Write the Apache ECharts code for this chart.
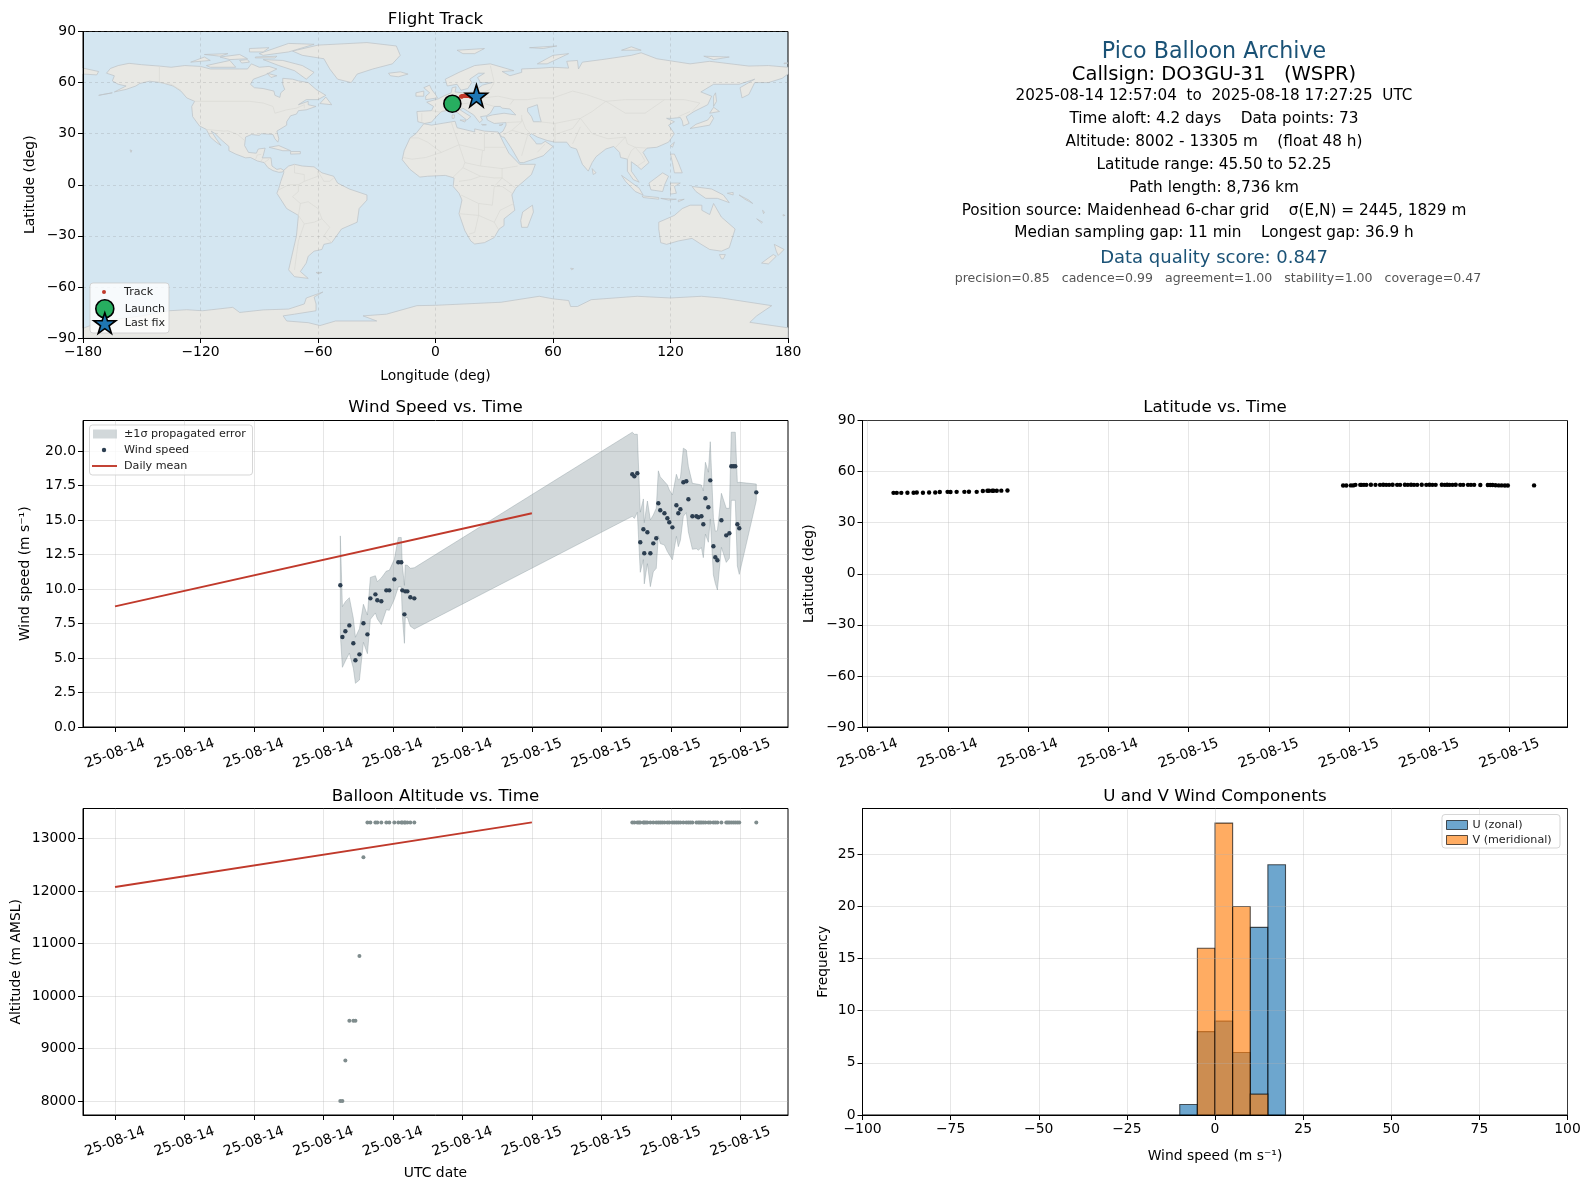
<!DOCTYPE html>
<html><head><meta charset="utf-8">
<style>html,body{margin:0;padding:0;background:#fff}#c{width:1590px;height:1189px}</style>
<script src="https://cdn.jsdelivr.net/npm/echarts@6/dist/echarts.min.js"></script>
</head><body><div id="c"></div>
<script>
// ---- Flight data (hours since 2025-08-14 00:00 on the plotted axis) ----
const windHours = [12.97,13.09,13.26,13.49,13.72,13.84,14.07,14.30,14.53,14.70,14.99,15.10,15.33,15.62,15.79,16.08,16.31,16.48,16.54,16.66,16.71,16.83,17.00,17.23,
29.78,29.90,30.07,30.24,30.42,30.47,30.65,30.82,30.99,31.16,31.28,31.39,31.63,31.80,31.91,32.09,32.32,32.43,32.55,32.72,32.89,33.01,33.24,33.47,33.58,33.76,33.87,33.99,34.16,34.27,34.45,34.56,34.68,34.91,35.19,35.37,35.48,35.60,35.71,35.83,35.94,36.92];
const windSpeed = [10.28,6.53,6.94,7.37,6.07,4.84,5.27,7.52,6.72,9.33,9.62,9.19,9.12,9.91,9.91,10.71,11.95,11.95,9.91,8.17,9.84,9.84,9.41,9.33,
18.33,18.18,18.40,13.40,14.34,12.60,14.12,12.60,13.32,13.69,16.23,15.72,15.50,15.14,14.85,14.48,16.08,15.50,15.79,17.75,17.82,16.52,15.28,15.28,15.21,15.28,14.70,16.59,15.94,17.89,13.11,12.31,12.09,14.99,13.90,14.05,18.91,18.91,18.91,14.70,14.41,17.02];
const windError = [3.58,2.20,2.15,2.01,1.81,1.67,1.86,1.38,1.40,1.52,1.35,1.35,1.69,1.40,1.45,1.45,1.79,1.79,1.84,2.10,1.91,1.89,2.10,2.22,
3.05,3.05,2.83,2.18,2.20,2.22,2.27,2.42,2.06,2.18,2.35,2.42,2.30,2.42,2.35,2.35,2.25,2.42,2.25,2.47,2.27,2.37,2.39,2.35,2.39,2.27,2.42,2.61,2.54,2.80,2.08,1.89,2.15,1.96,1.96,1.81,2.47,2.47,2.47,3.02,3.34,0.60];
const fixHours = [12.97,13.09,13.26,13.49,13.72,13.84,14.07,14.30,14.53,14.70,14.99,15.10,15.33,15.62,15.79,16.08,16.31,16.48,16.54,16.66,16.71,16.83,17.00,17.23,
29.78,29.90,30.07,30.16,30.24,30.42,30.47,30.56,30.65,30.82,30.99,31.16,31.28,31.39,31.50,31.63,31.80,31.91,32.09,32.20,32.32,32.43,32.55,32.72,32.89,33.01,33.12,33.24,33.47,33.58,33.67,33.76,33.87,33.99,34.16,34.27,34.45,34.56,34.68,34.91,35.19,35.28,35.37,35.48,35.60,35.71,35.83,35.94,36.92];
const fixLat = [47.5,47.5,47.5,47.6,47.6,47.7,47.6,47.7,47.7,48.0,48.1,48.0,48.1,48.1,48.2,48.1,48.6,48.7,48.7,48.7,48.7,48.7,48.8,48.9,
51.8,51.8,51.9,51.9,52.2,52.2,52.2,52.2,52.2,52.25,52.2,52.2,52.25,52.2,52.2,52.25,52.2,52.2,52.25,52.2,52.25,52.2,52.2,52.25,52.2,52.25,52.2,52.2,52.25,52.2,52.25,52.2,52.2,52.25,52.2,52.2,52.2,52.2,52.2,52.1,52.1,52.1,52.1,52.0,51.9,51.9,51.8,51.8,51.9];
const fixAlt = [8002,8002,8772,9531,9531,9531,10763,12640,13305,13305,13305,13305,13305,13305,13305,13305,13305,13305,13305,13305,13305,13305,13305,13305,
13305,13305,13305,13305,13305,13305,13305,13305,13305,13305,13305,13305,13305,13305,13305,13305,13305,13305,13305,13305,13305,13305,13305,13305,13305,13305,13305,13305,13305,13305,13305,13305,13305,13305,13305,13305,13305,13305,13305,13305,13305,13305,13305,13305,13305,13305,13305,13305,13305];
const trackLon = [13.0,13.2,13.4,13.6,13.8,14.0,14.3,14.6,14.8,15.0,15.3,15.5,15.7,15.9,16.1,16.3,16.5,16.7,16.9,17.1,17.3,17.5,17.7,18.0,20.6];
const trackLat = [51.8,51.8,51.9,51.9,52.0,52.1,52.2,52.2,52.2,52.2,52.25,52.2,52.2,52.2,52.25,52.2,52.2,52.2,52.2,52.1,52.1,52.0,51.9,51.9,51.8];
const launchPoint = [8.6, 47.6];
const lastFixPoint = [20.9, 52.25];
const dailyHours = [0, 24];
const dailyWind = [8.75, 15.5];
const dailyAlt = [12077, 13305];
const binEdges = [-10,-5,0,5,10,15,20];
const uCounts = [1,8,9,6,18,24];
const vCounts = [0,16,28,20,2,0];

// ---- Tick labels ----
const windTickHours = [0,4,8,12,16,20,24,28,32,36];
const windTickLabels = ['25-08-14','25-08-14','25-08-14','25-08-14','25-08-14','25-08-14','25-08-15','25-08-15','25-08-15','25-08-15'];
const latTickHours = [12,15,18,21,24,27,30,33,36];
const latTickLabels = ['25-08-14','25-08-14','25-08-14','25-08-14','25-08-15','25-08-15','25-08-15','25-08-15','25-08-15'];
const windYTicks = [0,2.5,5,7.5,10,12.5,15,17.5,20];
const altYTicks = [8000,9000,10000,11000,12000,13000];
const histYTicks = [0,5,10,15,20,25];
const lonTicks = [-180,-120,-60,0,60,120,180];
const latTicks = [-90,-60,-30,0,30,60,90];
const histXTicks = [-100,-75,-50,-25,0,25,50,75,100];

// ---- Info panel text ----
const infoLines = [
 ['Pico Balloon Archive', 22.2, '#1a5276', 52.5, 1214],
 ['Callsign: DO3GU-31   (WSPR)', 19.5, '#000', 75, 1214],
 ['2025-08-14 12:57:04  to  2025-08-18 17:27:25  UTC', 15.2, '#000', 96, 1214],
 ['Time aloft: 4.2 days    Data points: 73', 15.3, '#000', 119.5, 1214],
 ['Altitude: 8002 - 13305 m    (float 48 h)', 15.3, '#000', 142.5, 1214],
 ['Latitude range: 45.50 to 52.25', 15.3, '#000', 165.5, 1214],
 ['Path length: 8,736 km', 15.3, '#000', 188.5, 1214],
 ['Position source: Maidenhead 6-char grid    σ(E,N) = 2445, 1829 m', 15.3, '#000', 211.5, 1214],
 ['Median sampling gap: 11 min    Longest gap: 36.9 h', 15.3, '#000', 233.5, 1214],
 ['Data quality score: 0.847', 18, '#1a5276', 258.5, 1214],
 ['precision=0.85   cadence=0.99   agreement=1.00   stability=1.00   coverage=0.47', 12.55, '#555', 279, 1218]
];

// ---- Map geometry [lon, lat] ----
const landNorthAmerica = [[-168,65.5],[-166,68.3],[-162,70],[-156.5,71.3],[-150,70.5],[-141,69.7],[-135,69],[-128,70],[-120,69.5],[-115,68],[-108,68],[-100,68],[-96,68],[-94,71],[-90,69],[-85,69.5],[-81,68],[-87,64.5],[-93,62],[-94.5,59],[-92.5,57],[-88,56.5],[-82.5,55],[-82,52.5],[-79.5,51.3],[-79,54],[-77,56],[-78,59],[-78,62.5],[-73,62],[-70,61],[-65,60],[-61,56],[-56,52.5],[-60,50],[-66,50],[-70,47],[-65,49],[-65,47],[-61,46],[-66,44],[-70,43.5],[-71,41.5],[-74,40.5],[-76,37],[-76,35],[-81,31.5],[-80,27],[-80.5,25],[-82,27],[-83,29.5],[-85,29.7],[-89,30],[-90,29],[-94,29.5],[-97,28],[-97.5,23],[-95.5,19],[-91.5,18.5],[-90.5,21],[-87,21.5],[-88,17],[-88.5,15.8],[-84,15.8],[-83.5,11],[-81,9],[-79,9.5],[-77.5,8.5],[-78,7.5],[-80,7.3],[-83,8.3],[-85.5,10],[-87.5,13],[-91,14],[-94.5,16],[-97,15.8],[-102,18],[-105.5,20],[-105.5,22.5],[-109,26],[-112.5,30],[-114.5,31.5],[-112,27],[-109.5,23],[-112,25],[-115,28],[-117,32.5],[-120.5,34.5],[-124,40],[-124.5,46],[-123,49],[-127,51],[-130,55],[-134,58],[-140,60],[-146,60.8],[-151,59.5],[-153,58],[-158,56],[-164,54.5],[-158,58],[-162,59],[-165,61],[-164,64]];
const landSouthAmerica = [[-77.5,8.5],[-75,11],[-72,12],[-68,11],[-62,10.5],[-58,7],[-52,5],[-50,1],[-44,-2.5],[-35,-6],[-35,-9],[-39,-14],[-40,-22],[-48,-26],[-53,-34],[-57,-35],[-58,-38],[-62,-39],[-65,-42],[-66,-46],[-69,-51],[-65,-55],[-72,-54],[-75,-50],[-73,-40],[-71,-30],[-70,-18],[-76,-14],[-81,-5],[-80,-2],[-79,2],[-77.5,7]];
const landGreenland = [[-73,78.5],[-60,82],[-35,83.5],[-20,81.5],[-18,76],[-22,71],[-32,68],[-40,65],[-43,60],[-50,62],[-54,68],[-57,74],[-68,76]];
const landEurasia = [[-9,37],[-9.5,43],[-2,43.5],[-1,46],[-4.5,48.5],[1.5,50.5],[4,52],[8,54],[8.5,57],[10.5,57.5],[10,54.5],[14,54],[19,54.5],[21,56],[24,58.5],[29,60],[23,60],[21.5,63],[25,65.5],[22,65.5],[17.5,62],[18.5,60],[16.5,56.5],[13,55.5],[11,59],[6,58],[5,62],[12,66],[20,70],[28,71],[40,67],[34,66.5],[38,64],[44,66],[44,68],[54,68.5],[60,69],[68,68.5],[67,72.5],[72.5,73],[73,68],[75,72],[85,73.5],[100,76],[105,77.5],[113,74],[130,71],[140,72.5],[160,69.7],[170,70],[180,69],[180,65],[177,62.5],[170,60],[163,60],[160,53],[156.5,51],[155.5,57],[163,62],[155,59],[142,59],[135.5,54.5],[141,52],[139,47],[132,43],[128,40],[129.5,36],[126.5,34.5],[126,37.5],[125,39.5],[121,39],[118,39],[122,37],[119,35],[122,30],[119,25],[113,22],[108,21.5],[106,19],[109,13],[105,9],[103,11],[100,13.5],[100,8],[104,1.5],[101,3],[98,8],[98,15],[94.5,16],[94,19],[91,22.5],[87,21],[82,16.5],[80,13],[78,8],[75,12],[73,18],[72,21],[69,22],[67,25],[61,25],[57,26],[52,28],[49,30],[48,29],[51,25],[51.5,24],[54,24],[56,25.5],[60,22.5],[55,17],[45,13],[43,13],[39,21],[35,28],[34,28],[32.6,30],[34.5,31.5],[36,35],[36,36.5],[30,36],[26.5,38],[26,40],[29,41],[35,42],[41,41],[38,44.5],[34,45],[33,46],[30,46],[28,42],[26,40.5],[23,40],[24,38],[22.5,36.5],[19.5,41],[14,45],[12.5,44],[18,40],[16,38],[11,42.5],[8,44],[3,43],[0,39.5],[-2,36.8],[-5.5,36]];
const landAfrica = [[-6,35.8],[-2,35],[10,37.3],[11,33.5],[20,31],[20,32.8],[25,31.5],[32,31],[32.5,30],[35,24],[37.5,18.5],[43,12],[51,12],[49,6],[41,-2],[39,-6],[40.5,-15],[35,-20],[35,-24],[32.5,-26],[30,-31],[25,-34],[20,-34.8],[18,-33],[15,-27],[12,-17],[13.5,-9],[12,-5],[9,-1],[9.5,4],[5,5.5],[-4,5],[-8,4.5],[-13,9],[-17,14.7],[-16,20],[-13,27.5],[-10,30]];
const landAustralia = [[114,-22],[122,-18],[126,-14],[130,-12],[136,-12],[136,-15],[140,-17.5],[142,-11],[146,-19],[153,-26],[150,-37],[146,-39],[140,-38],[135,-34.5],[131,-31.5],[124,-33],[118,-35],[115,-34],[114,-26]];
const landAntarctica = [[-180,-84.3],[-170,-80],[-150,-77],[-136,-74],[-127,-73.4],[-119,-74],[-103.5,-72],[-100,-75],[-88,-73.5],[-75,-73],[-67,-70],[-66,-66.5],[-57.5,-63],[-62,-66],[-61,-70],[-61,-74],[-72,-76],[-77.8,-77],[-76,-80],[-65,-81],[-59,-82.7],[-51,-80],[-30,-80],[-37,-77],[-25,-76],[-9.5,-71],[0,-70.8],[33.5,-69],[53,-65.5],[60,-67],[68,-68],[69,-71.5],[72.5,-71.5],[79.5,-67.5],[103,-65.5],[120,-66.5],[135.8,-65.5],[146,-66.5],[171.7,-71],[164,-77],[160.5,-80.8],[180,-84],[180,-90],[-180,-90]];
const landIslands = [
 [[-62,66],[-68,70],[-78,73],[-88,73.5],[-80,70],[-72,67],[-66,62]],
 [[-117,70],[-105,73],[-102,69],[-115,69]],
 [[-90,77],[-75,83],[-62,82.5],[-75,78],[-88,76]],
 [[-125,72],[-118,75],[-115,73]],
 [[-110,75],[-100,76.5],[-96,74],[-105,73.5]],
 [[-95,80],[-85,80.5],[-88,78],[-95,78]],
 [[-92,75],[-81,75.5],[-82,74.5],[-92,74.5]],
 [[-100,73],[-96,73.5],[-95,72],[-99,71.5]],
 [[-118,76.5],[-106,77],[-110,75.5]],
 [[-86,65.5],[-81,64],[-84,63]],
 [[-59,47.7],[-56,51.5],[-53,47]],
 [[-24,65.5],[-18,66.3],[-14,65],[-19,63.4],[-23,64]],
 [[-5,50],[1,51],[0,53],[-2,56],[-3,58.5],[-6,57],[-3,54],[-5,52]],
 [[-10,52],[-6,52],[-6,55],[-10,54]],
 [[11,79],[25,80],[20,77],[14,77]],
 [[52,71],[60,76],[68,77],[57,71]],
 [[48,80.5],[62,81.5],[55,80]],
 [[95,79],[105,79],[100,81]],
 [[137,75.5],[150,75],[142,73.5]],
 [[178,71],[180,71.5],[178,71.5]],
 [[49.5,-12],[50,-16],[47,-25],[44,-25],[43.5,-21],[44.5,-16]],
 [[145,-41],[148,-41],[147,-43.5],[146,-43.5]],
 [[173,-35],[178,-38],[175,-41.5],[174,-39]],
 [[172.5,-41],[174,-42],[170,-46.5],[166.5,-46],[170,-43]],
 [[130,33],[135,34],[140,35],[142,39],[141,41],[139,38],[133,35.5]],
 [[140,42],[145,43],[142,45.5]],
 [[142,46],[143.5,49],[143,54],[142,52]],
 [[95,5.5],[104,-2],[106,-6],[102,-4],[97,2]],
 [[105.5,-6.5],[114,-7.5],[114,-8.5],[106,-7.5]],
 [[115,-8],[123,-8.5],[119,-9]],
 [[124,-9],[127,-8.5],[124,-10]],
 [[109,1],[116,7],[119,5],[117,0],[116,-4],[110,-3]],
 [[120,1],[125,1],[122,-1],[123,-5],[120,-5.5]],
 [[120,18],[122,18],[124,13],[126,7],[122,7],[121,13]],
 [[131,-1],[141,-2.5],[147,-6],[150,-10.5],[144,-8],[138,-8],[133,-4]],
 [[149,-5],[152,-4.5],[152,-6]],
 [[120,23],[122,25],[121,22]],
 [[80,9.5],[82,7],[80.5,6]],
 [[8.5,41],[9.7,41],[9.5,39],[8.5,39]],
 [[12.5,38],[15.5,38],[15,36.8]],
 [[23.5,35.5],[26,35.2],[24,35]],
 [[32.5,35],[34.5,35.6],[33.5,34.7]],
 [[-85,22],[-80,23],[-74,20],[-78,20]],
 [[-74,19.5],[-69,19.5],[-69,18.2],[-74,18]],
 [[-61,-51.5],[-58,-51.5],[-60,-52.3]],
 [[69,-49],[70.5,-49.3],[69.5,-50]],
 [[164,-20],[167,-22],[166.5,-22.5]],
 [[167,-15],[168,-16],[167.5,-17]],
 [[177.5,-17.5],[178.5,-18],[177.5,-18.3]],
 [[-156,20.5],[-155,20],[-155.5,19]],
 [[155,-6],[160,-9],[162,-11],[158,-8.5]],
 [[-170,53],[-165,54],[-172,52.5]],
 [[-180,65],[-173,64.5],[-172,66.5],[-180,68.5]]
];
const seaCaspian = [[47,45],[52,47],[53,41],[54,37],[50,37],[49,40],[47,43]];
const borderLines = [
 [[-141,69.7],[-141,60],[-135,59],[-130,55.5]],
 [[-123,49],[-95,49],[-88,48],[-83,46],[-82,42],[-76,44],[-71,45],[-67,47],[-67,45]],
 [[-117,32.5],[-108,31.5],[-106,31.7],[-101,29.5],[-97.5,26]],
 [[-92,14.5],[-91,17.5],[-89,17.8]],[[-88,15.8],[-89,14]],[[-85,15],[-87.5,13]],
 [[-70,-18],[-69,-11],[-73,-7],[-70,-4],[-70,0],[-67,2],[-60,5],[-60,8]],
 [[-69,-11],[-65,-10],[-60,-14],[-58,-20],[-54,-25],[-57,-30],[-53,-34]],
 [[-70,-18],[-67,-23],[-70,-33],[-72,-50]],[[-80,-3],[-75,0],[-70,0]],
 [[-72,12],[-72,7],[-67,6],[-67,2]],[[-60,8],[-57,2],[-54,2],[-52,4]],[[-58,-20],[-62,-22],[-67,-23]],
 [[-13,27.5],[-8.7,27.5],[-4,25],[3,19],[12,23.5],[10,30],[8,37]],
 [[12,23.5],[25,20],[25,31.5]],[[25,22],[36,22]],[[3,19],[-5,16],[-12,15],[-16.5,16]],
 [[12,23.5],[15,13],[14,10],[9,4.5]],[[15,13],[23,11],[24,20]],[[23,11],[34,9.5],[42,11]],
 [[34,9.5],[34,4],[41,-2]],[[34,4],[30,-1],[34,-1],[39,-5]],[[30,-1],[29,-12],[22,-11],[13,-6]],
 [[22,-11],[22,-18],[12,-17]],[[22,-18],[20,-28],[17,-29]],[[22,-18],[30,-22],[32,-26]],
 [[30,-22],[33,-15],[40,-11]],[[14,10],[23,5],[30,4],[34,4]],[[12,2],[18,3],[23,5]],
 [[28,70],[30,60],[28,56],[24,54],[14,54]],[[10,47],[17,48],[24,48],[30,46]],[[3,43],[7,44]],
 [[-2,43.5],[3,42.5]],[[-7,42],[-7,37]],[[40,50],[32,52],[24,51]],
 [[38,47],[40,50],[47,50],[53,51],[60,51],[70,55],[77,53],[87,49],[97,50],[107,50],[117,50],[127,50],[135,48],[131,43]],
 [[87,49],[80,43],[74,39],[80,30],[88,27],[97,28],[98,24],[102,22],[108,21.5]],
 [[74,39],[61,36],[53,37]],[[61,36],[61,25]],[[74,39],[70,33],[61,29.5]],[[74,34],[70,24]],
 [[44,39],[46,33],[48.5,30]],[[36,36.5],[44,37],[44,41]],[[44,37],[39,32],[35,29.5]],[[39,32],[48,29]],
 [[47,29],[44,17]],[[52,19],[56,24]],[[97,28],[92,22]],[[100,20],[102,22],[105,18],[107,14],[103,11]],
 [[100,20],[98,15]],[[117,50],[107,42],[97,42],[87,49]],[[124,40],[130,43]]
];
const starPath = 'path://M50 0 L61.8 35.1 L98.9 35.1 L69 57.6 L79.4 91.5 L50 70.5 L20.6 91.5 L31 57.6 L1.1 35.1 L38.2 35.1 Z';

// ---- Assembly ----
const FONT = 'DejaVu Sans';
const GRID_LINE = 'rgba(176,176,176,0.32)';
const OCEAN = '#d4e6f1', LAND = '#e8e8e4', COAST = '#bcc2c5', BORDER = '#dadad6';
const grids = [
 {left:83,top:31.5,width:705,height:306.5},
 {left:83,top:420.5,width:705,height:306.5},
 {left:862.5,top:420.5,width:705,height:306.5},
 {left:83,top:808.5,width:705,height:306.5},
 {left:862.5,top:808.5,width:705,height:306.5}
].map(g=>Object.assign(g,{show:true,borderColor:'#000',borderWidth:1,backgroundColor:'#fff'}));
grids[0].backgroundColor = OCEAN;

function axis(gridIndex, o){
  const a = {
    type:'value', gridIndex, min:o.min, max:o.max,
    axisLine:{show:true,onZero:false,lineStyle:{color:'#000',width:1}},
    axisTick:{show:true,length:5,customValues:o.ticks,lineStyle:{color:'#000',width:1}},
    axisLabel:{show:true,customValues:o.ticks,color:'#000',fontSize:13.9,fontFamily:FONT,margin:o.labelMargin||7,formatter:o.fmt||signed},
    splitLine:{show:true,lineStyle:{color:o.gridColor||GRID_LINE,width:o.dash?0.8:1,type:o.dash?[3,3]:'solid'}},
    z:o.z||0
  };
  if(o.padTop) {a.axisLabel.padding=[o.padTop,0,0,0];a.axisLabel.verticalAlign='middle';}
  if(o.rotate){a.axisLabel.rotate=o.rotate;a.axisLabel.align='center';a.axisLabel.verticalAlign='middle';}
  if(o.name){a.name=o.name;a.nameLocation='middle';a.nameGap=o.gap;a.nameTextStyle={color:'#000',fontSize:13.9,fontFamily:FONT};}
  return a;
}
const signed = v=>String(v).replace('-','\u2212');
const labelFrom = (ticks,labels)=>v=>labels[ticks.indexOf(v)];
const windFmt = labelFrom(windTickHours,windTickLabels);
const latFmt = labelFrom(latTickHours,latTickLabels);
const WIND_X = {min:-1.845,max:38.745,ticks:windTickHours,fmt:windFmt,rotate:20,labelMargin:26.5};
const MAP_GRID = 'rgba(130,130,130,0.28)';
const Y_PAD = 3;

const xAxes = [
 axis(0,{min:-180,max:180,ticks:lonTicks,name:'Longitude (deg)',gap:31,dash:true,z:3,gridColor:MAP_GRID}),
 axis(1,WIND_X),
 axis(2,{min:11.81,max:38.17,ticks:latTickHours,fmt:latFmt,rotate:20,labelMargin:26.5}),
 axis(3,Object.assign({name:'UTC date',gap:51},WIND_X)),
 axis(4,{min:-100,max:100,ticks:histXTicks,name:'Wind speed (m s⁻¹)',gap:34,z:3})
];
const yAxes = [
 axis(0,{min:-90,max:90,ticks:latTicks,name:'Latitude (deg)',gap:46,dash:true,z:3,gridColor:MAP_GRID,padTop:Y_PAD}),
 axis(1,{min:0,max:22.23,ticks:windYTicks,name:'Wind speed (m s⁻¹)',gap:51,fmt:v=>v.toFixed(1),padTop:Y_PAD}),
 axis(2,{min:-90,max:90,ticks:latTicks,name:'Latitude (deg)',gap:46,padTop:Y_PAD}),
 axis(3,{min:7737,max:13570,ticks:altYTicks,name:'Altitude (m AMSL)',gap:60,padTop:Y_PAD}),
 axis(4,{min:0,max:29.4,ticks:histYTicks,name:'Frequency',gap:32,z:3,padTop:Y_PAD})
];

const zip = (a,b)=>a.map((v,i)=>[v,b[i]]);
const landShapes = [landNorthAmerica,landSouthAmerica,landGreenland,landEurasia,landAfrica,landAustralia,landAntarctica].concat(landIslands);
const histBars = counts => counts.map((c,i)=>[binEdges[i],binEdges[i+1],c]).filter(b=>b[2]>0);
const histRender = (fill,stroke)=>(params,api)=>{
  const p0=api.coord([api.value(0),0]), p1=api.coord([api.value(1),api.value(2)]);
  return {type:'rect',shape:{x:p0[0],y:p1[1],width:p1[0]-p0[0],height:p0[1]-p1[1]},style:{fill,stroke,lineWidth:1.1}};
};
const HU='rgba(31,119,180,0.65)',HV='rgba(255,127,14,0.65)',HE='rgba(0,0,0,0.65)';
const BAND='rgba(125,143,150,0.35)';

const series = [
 {name:'land',type:'custom',xAxisIndex:0,yAxisIndex:0,z:1,silent:true,data:landShapes.map((s,i)=>[i,0]),
  renderItem:(p,api)=>({type:'polygon',shape:{points:landShapes[api.value(0)].map(c=>api.coord(c))},style:{fill:LAND,stroke:COAST,lineWidth:0.7}})},
 {name:'sea',type:'custom',xAxisIndex:0,yAxisIndex:0,z:1,silent:true,data:[[0,0]],
  renderItem:(p,api)=>({type:'polygon',shape:{points:seaCaspian.map(c=>api.coord(c))},style:{fill:OCEAN,stroke:COAST,lineWidth:0.7}})},
 {name:'borders',type:'custom',xAxisIndex:0,yAxisIndex:0,z:1,silent:true,data:borderLines.map((s,i)=>[i,0]),
  renderItem:(p,api)=>({type:'polyline',shape:{points:borderLines[api.value(0)].map(c=>api.coord(c))},style:{fill:'none',stroke:BORDER,lineWidth:0.7}})},
 {name:'Track',type:'scatter',xAxisIndex:0,yAxisIndex:0,z:5,symbolSize:4,itemStyle:{color:'#c0392b',opacity:1},data:zip(trackLon,trackLat)},
 {name:'Launch',type:'scatter',xAxisIndex:0,yAxisIndex:0,z:6,symbolSize:17,itemStyle:{color:'#27ae60',borderColor:'#000',borderWidth:1.6,opacity:1},data:[launchPoint]},
 {name:'Last fix',type:'scatter',xAxisIndex:0,yAxisIndex:0,z:7,symbol:starPath,symbolSize:22,itemStyle:{color:'#1f77b4',borderColor:'#000',borderWidth:1.6,opacity:1},data:[lastFixPoint]},

 {name:'±1σ propagated error',type:'custom',xAxisIndex:1,yAxisIndex:1,z:2,silent:true,data:[[0,0]],
  renderItem:(p,api)=>{
    const up=windHours.map((h,i)=>api.coord([h,windSpeed[i]+windError[i]]));
    const lo=windHours.map((h,i)=>api.coord([h,windSpeed[i]-windError[i]])).reverse();
    return {type:'polygon',shape:{points:up.concat(lo)},style:{fill:BAND,stroke:BAND,lineWidth:1}};
  }},
 {name:'Wind speed',type:'scatter',xAxisIndex:1,yAxisIndex:1,z:4,symbolSize:4.4,itemStyle:{color:'#2c3e50',opacity:1},data:zip(windHours,windSpeed)},
 {name:'Daily mean',type:'line',xAxisIndex:1,yAxisIndex:1,z:3,symbol:'none',lineStyle:{color:'#c0392b',width:1.9},data:zip(dailyHours,dailyWind)},

 {name:'Latitude',type:'scatter',xAxisIndex:2,yAxisIndex:2,z:4,symbolSize:4.4,itemStyle:{color:'#000',opacity:1},data:zip(fixHours,fixLat)},

 {name:'Altitude',type:'scatter',xAxisIndex:3,yAxisIndex:3,z:3,symbolSize:4,itemStyle:{color:'#7f8c8d',opacity:1},data:zip(fixHours,fixAlt)},
 {name:'Altitude daily mean',type:'line',xAxisIndex:3,yAxisIndex:3,z:4,symbol:'none',lineStyle:{color:'#c0392b',width:1.9},data:zip(dailyHours,dailyAlt)},

 {name:'U (zonal)',type:'custom',xAxisIndex:4,yAxisIndex:4,z:2,silent:true,itemStyle:{color:HU},encode:{x:[0,1],y:2},data:histBars(uCounts),renderItem:histRender(HU,HE)},
 {name:'V (meridional)',type:'custom',xAxisIndex:4,yAxisIndex:4,z:2,silent:true,itemStyle:{color:HV},encode:{x:[0,1],y:2},data:histBars(vCounts),renderItem:histRender(HV,HE)}
];

function entry(name,icon,w,h,cx,cy,tx,style){
  const th=Math.max(h,13);
  return {show:true,data:[{name,icon,itemStyle:Object.assign({opacity:1},style)}],left:cx-w/2,top:cy-th/2,itemWidth:w,itemHeight:h,padding:0,selectedMode:false,z:20,
    textStyle:{fontFamily:FONT,fontSize:11.15,color:'#222',lineHeight:13,padding:[0,0,0,Math.max(0,tx-(cx+w/2)-5)]}};
}
const legends = [
 entry('Track','circle',4,4,104,292,124,{color:'#c0392b'}),
 entry('Launch','circle',18,18,104,308,124,{color:'#27ae60',borderColor:'#000',borderWidth:1.6}),
 entry('Last fix',starPath,22,22,104,323,124,{color:'#1f77b4',borderColor:'#000',borderWidth:1.6}),
 entry('±1σ propagated error','rect',24,9,105,434,124,{color:BAND,borderWidth:0}),
 entry('Wind speed','circle',4.4,4.4,104,450,124,{color:'#2c3e50'}),
 entry('Daily mean','rect',25,1.9,104.5,466,124,{color:'#c0392b',borderWidth:0}),
 entry('U (zonal)','rect',21,9,1456.5,825,1467,{color:HU,borderColor:HE,borderWidth:1}),
 entry('V (meridional)','rect',21,9,1456.5,840,1467,{color:HV,borderColor:HE,borderWidth:1})
];
const legendBox = (x,y,w,h)=>({type:'rect',z:19,shape:{x,y,width:w,height:h,r:3},style:{fill:'rgba(255,255,255,0.8)',stroke:'rgba(204,204,204,0.8)',lineWidth:1}});

const titles = [
 ['Flight Track',435.5,20],['Wind Speed vs. Time',435.5,408],['Latitude vs. Time',1215,408],
 ['Balloon Altitude vs. Time',435.5,797],['U and V Wind Components',1215,797]
].map(t=>({text:t[0],left:t[1],top:t[2],padding:0,textAlign:'center',textVerticalAlign:'middle',textStyle:{fontFamily:FONT,fontSize:16.67,fontWeight:'normal',color:'#000'}}))
 .concat(infoLines.map(l=>({text:l[0],left:l[4],top:l[3],padding:0,textAlign:'center',textVerticalAlign:'middle',textStyle:{fontFamily:FONT,fontSize:l[1],fontWeight:'normal',color:l[2]}})));

const chart = echarts.init(document.getElementById('c'),null,{renderer:'canvas'});
chart.setOption({
  animation:false, backgroundColor:'#fff', textStyle:{fontFamily:FONT},
  title:titles, grid:grids, xAxis:xAxes, yAxis:yAxes, legend:legends, series,
  graphic:[legendBox(90,283,79,50),legendBox(89.5,425,163,50),legendBox(1442,814.5,118,33.5)]
});
</script></body></html>
